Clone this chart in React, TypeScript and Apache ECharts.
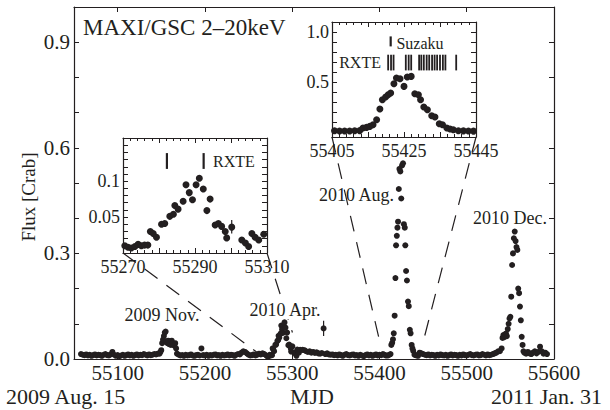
import React, { useEffect, useRef } from "react";
import * as echarts from "echarts";

// ---------------- data ----------------
// main light curve: quiescent stretches (start MJD, step 2 d) and outbursts
const quietAStart = 55058;
const quietAFlux = [0.014, 0.012, 0.011, 0.013, 0.010, 0.012, 0.009, 0.011, 0.013, 0.010, 0.012, 0.011, 0.009, 0.012, 0.014, 0.011, 0.010, 0.013, 0.020, 0.012, 0.009, 0.011, 0.008, 0.010, 0.012, 0.009, 0.011, 0.013, 0.010, 0.012, 0.009, 0.011, 0.013, 0.010, 0.012, 0.011, 0.014, 0.012, 0.010, 0.013, 0.011, 0.012, 0.014, 0.013, 0.015];
const novStart = 55148;
const novFlux = [0.015, 0.020, 0.025, 0.045, 0.055, 0.065, 0.075, 0.078, 0.050, 0.045, 0.052, 0.042, 0.048, 0.040, 0.052, 0.045, 0.040, 0.038, 0.045, 0.030, 0.015];
const quietBStart = 55170;
const quietBFlux = [0.012, 0.010, 0.011, 0.009, 0.012, 0.010, 0.011, 0.013, 0.010, 0.009, 0.011, 0.012, 0.010, 0.030, 0.011, 0.010, 0.012, 0.009, 0.011, 0.010, 0.012, 0.013, 0.010, 0.011, 0.009, 0.012, 0.010, 0.011, 0.013, 0.010, 0.012, 0.011, 0.009, 0.012, 0.014, 0.013, 0.018, 0.022, 0.020, 0.016, 0.012, 0.010, 0.011, 0.013, 0.010, 0.012, 0.015, 0.013, 0.016, 0.014];
// 2010 Apr. outburst (also shown in inset 1)
const aprMjd = [55270.5, 55271.4, 55272.3, 55273.3, 55274.2, 55275.1, 55276.0, 55276.9, 55277.6, 55278.4, 55279.3, 55280.7, 55281.6, 55283.0, 55284.0, 55284.4, 55285.3, 55286.7, 55287.5, 55288.4, 55289.3, 55290.3, 55291.2, 55292.3, 55293.3, 55294.2, 55295.6, 55296.5, 55297.4, 55298.4, 55298.8, 55300.2, 55303.0, 55304.0, 55304.9, 55305.8, 55306.7, 55307.7, 55309.1];
const aprFlux = [0.010, 0.008, 0.007, 0.009, 0.012, 0.010, 0.011, 0.011, 0.030, 0.027, 0.022, 0.040, 0.041, 0.051, 0.054, 0.066, 0.061, 0.072, 0.095, 0.084, 0.074, 0.095, 0.104, 0.089, 0.059, 0.075, 0.039, 0.041, 0.037, 0.030, 0.021, 0.036, 0.018, 0.014, 0.009, 0.027, 0.022, 0.018, 0.026];
const quietCStart = 55312;
const quietCFlux = [0.026, 0.025, 0.022, 0.020, 0.022, 0.018, 0.020, 0.017, 0.019, 0.016, 0.015, 0.017, 0.087, 0.014, 0.016, 0.013, 0.012, 0.013, 0.011, 0.012, 0.010, 0.013, 0.011, 0.009, 0.012, 0.014, 0.011, 0.010, 0.012, 0.013, 0.010, 0.011, 0.009, 0.012, 0.010, 0.008, 0.011, 0.013, 0.010, 0.012, 0.009, 0.011, 0.013, 0.010, 0.012, 0.011, 0.014];
// 2010 Aug. outburst (also shown in inset 2)
const augMjd = [55405.7, 55407.1, 55408.5, 55409.9, 55411.3, 55412.7, 55413.6, 55414.6, 55415.5, 55416.4, 55417.4, 55418.3, 55419.0, 55419.9, 55420.6, 55421.3, 55422.2, 55422.9, 55423.9, 55425.0, 55425.9, 55427.0, 55428.0, 55429.0, 55429.6, 55430.5, 55431.5, 55432.7, 55433.6, 55434.8, 55435.7, 55436.9, 55437.8, 55438.7, 55440.1, 55441.5, 55442.9, 55444.3];
const augFlux = [0.012, 0.010, 0.010, 0.010, 0.012, 0.014, 0.040, 0.046, 0.056, 0.073, 0.123, 0.230, 0.323, 0.350, 0.373, 0.390, 0.483, 0.540, 0.533, 0.456, 0.550, 0.556, 0.383, 0.373, 0.323, 0.250, 0.223, 0.163, 0.150, 0.083, 0.073, 0.040, 0.030, 0.023, 0.012, 0.011, 0.010, 0.009];
const quietEStart = 55446;
const quietEFlux = [0.018, 0.016, 0.014, 0.012, 0.011, 0.013, 0.010, 0.012, 0.011, 0.009, 0.012, 0.010, 0.013, 0.011, 0.010, 0.012, 0.009, 0.011, 0.013, 0.010, 0.012, 0.011, 0.009, 0.012, 0.010, 0.013, 0.011, 0.010, 0.012, 0.014, 0.011, 0.010, 0.012, 0.013, 0.010, 0.011, 0.014, 0.012, 0.010, 0.013, 0.011, 0.012, 0.014, 0.016, 0.018, 0.022];
// 2010 Dec. outburst
const decMjd = [55538, 55540, 55541, 55542, 55543, 55544, 55545, 55546, 55547, 55548, 55549, 55550, 55551, 55552, 55553, 55554, 55555, 55556, 55557, 55558, 55559, 55560, 55561, 55562, 55563, 55564, 55565];
const decFlux = [0.022, 0.030, 0.060, 0.068, 0.062, 0.070, 0.072, 0.065, 0.085, 0.100, 0.115, 0.120, 0.177, 0.267, 0.300, 0.343, 0.362, 0.335, 0.318, 0.310, 0.200, 0.187, 0.149, 0.110, 0.063, 0.040, 0.022];
const quietFStart = 55566;
const quietFFlux = [0.018, 0.015, 0.020, 0.016, 0.014, 0.018, 0.022, 0.016, 0.020, 0.035, 0.022, 0.015, 0.018, 0.014];

// error bars [mjd, low, high]
const mainErrors = [[55336, 0.065, 0.109]];
const aprErrors = [[55300.2, 0.027, 0.046]];

// observation markers
const aprRxteMjd = [55282.2, 55292.4];
const aprRxteRange = [0.117, 0.139];
const augRxteMjd = [55420.6, 55421.4, 55422.1, 55425.5, 55426.3, 55427.0, 55429.2, 55429.8, 55430.5, 55431.3, 55432.0, 55432.8, 55433.5, 55434.2, 55435.0, 55435.8, 55436.5, 55439.5];
const augRxteRange = [0.616, 0.773];
const augSuzakuMjd = [55421.3];
const augSuzakuRange = [0.856, 0.956];

// ---------------- helpers ----------------
const seq = (start: number, step: number, vals: number[]) => vals.map((v, i) => [start + i * step, v]);
const zip = (xs: number[], ys: number[]) => xs.map((x, i) => [x, ys[i]]);

const FONT = '"Liberation Serif", "Times New Roman", Times, serif';
const INK = "#231f20";

const mainData = [
  ...seq(quietAStart, 2, quietAFlux),
  ...seq(novStart, 1, novFlux),
  ...seq(quietBStart, 2, quietBFlux),
  ...zip(aprMjd, aprFlux),
  ...seq(quietCStart, 2, quietCFlux),
  ...zip(augMjd, augFlux),
  ...seq(quietEStart, 2, quietEFlux),
  ...zip(decMjd, decFlux),
  ...seq(quietFStart, 2, quietFFlux),
];

const barRender = (width: number) => (params: any, api: any) => {
  const a = api.coord([api.value(0), api.value(1)]);
  const b = api.coord([api.value(0), api.value(2)]);
  return {
    type: "line",
    shape: { x1: a[0], y1: a[1], x2: b[0], y2: b[1] },
    style: { stroke: INK, lineWidth: width },
  };
};

function xAx(grid: number, pos: string, min: number, max: number, extra: any, labels: any) {
  return {
    gridIndex: grid,
    type: "value",
    position: pos,
    min,
    max,
    ...extra,
    axisLine: { show: true, onZero: false, lineStyle: { color: INK, width: 1.2 } },
    axisTick: { show: true, inside: true, length: 5, lineStyle: { color: INK, width: 1 } },
    splitLine: { show: false },
    axisLabel: labels ? { show: true, color: INK, fontFamily: FONT, ...labels } : { show: false },
  };
}
function yAx(grid: number, pos: string, min: number, max: number, extra: any, labels: any) {
  return {
    gridIndex: grid,
    type: "value",
    position: pos,
    min,
    max,
    ...extra,
    axisLine: { show: true, onZero: false, lineStyle: { color: INK, width: 1.2 } },
    axisTick: { show: true, inside: true, length: 5, lineStyle: { color: INK, width: 1 } },
    splitLine: { show: false },
    axisLabel: labels ? { show: true, color: INK, fontFamily: FONT, ...labels } : { show: false },
  };
}

const minor = { show: true, splitNumber: 5, length: 3, lineStyle: { color: INK, width: 1 } };

const insetXLabel = (start: number) => ({
  fontSize: 18,
  margin: 5,
  formatter: (v: number) => ((Math.round(v - start) % 20 === 0) ? String(v) : ""),
});

export default function App() {
  const ref = useRef<HTMLDivElement>(null);
  useEffect(() => {
    if (!ref.current) return;
    const chart = echarts.init(ref.current, null, { renderer: "svg" });
    const option: any = {
      animation: false,
      backgroundColor: "#fff",
      grid: [
        { left: 74, top: 7, width: 480, height: 352 },
        { left: 123, top: 138, width: 144, height: 115, show: true, backgroundColor: "#fff", borderWidth: 0 },
        { left: 332, top: 22, width: 144, height: 115, show: true, backgroundColor: "#fff", borderWidth: 0 },
      ],
      xAxis: [
        xAx(0, "bottom", 55050, 55600, { splitNumber: 5 }, { fontSize: 21, margin: 3, showMinLabel: false, formatter: (v: number) => String(v) }),
        xAx(0, "top", 55050, 55600, { splitNumber: 5 }, null),
        xAx(1, "bottom", 55270, 55310, { interval: 10, minorTick: minor }, insetXLabel(55270)),
        xAx(1, "top", 55270, 55310, { interval: 10, minorTick: minor }, null),
        xAx(2, "bottom", 55405, 55445, { interval: 10, minorTick: minor }, insetXLabel(55405)),
        xAx(2, "top", 55405, 55445, { interval: 10, minorTick: minor }, null),
      ],
      yAxis: [
        yAx(0, "left", 0, 1, { interval: 0.1 }, {
          fontSize: 21, margin: 4,
          formatter: (v: number) => { const k = Math.round(v * 10); return k % 3 === 0 && k < 10 ? v.toFixed(1) : ""; },
        }),
        yAx(0, "right", 0, 1, { interval: 0.1 }, null),
        yAx(1, "left", 0, 0.16, { interval: 0.01 }, {
          fontSize: 18, margin: 3,
          formatter: (v: number) => (Math.abs(v - 0.05) < 1e-6 ? "0.05" : Math.abs(v - 0.1) < 1e-6 ? "0.1" : ""),
        }),
        yAx(1, "right", 0, 0.16, { interval: 0.01 }, null),
        yAx(2, "left", -0.05, 1.1, { splitNumber: 10 }, {
          fontSize: 18, margin: 3, showMinLabel: false, showMaxLabel: false,
          formatter: (v: number) => (Math.abs(v - 0.5) < 1e-6 ? "0.5" : Math.abs(v - 1) < 1e-6 ? "1.0" : ""),
        }),
        yAx(2, "right", -0.05, 1.1, { splitNumber: 10 }, null),
      ],
      series: [
        { type: "scatter", xAxisIndex: 0, yAxisIndex: 0, data: mainData, symbolSize: 6, itemStyle: { color: INK, opacity: 1 }, z: 5 },
        { type: "custom", xAxisIndex: 0, yAxisIndex: 0, data: mainErrors, renderItem: barRender(1.2), z: 5 },
        { type: "scatter", xAxisIndex: 2, yAxisIndex: 2, data: zip(aprMjd, aprFlux), symbolSize: 7, itemStyle: { color: INK, opacity: 1 }, z: 5 },
        { type: "custom", xAxisIndex: 2, yAxisIndex: 2, data: aprErrors, renderItem: barRender(1.2), z: 5 },
        { type: "custom", xAxisIndex: 2, yAxisIndex: 2, data: aprRxteMjd.map((m) => [m, aprRxteRange[0], aprRxteRange[1]]), renderItem: barRender(2.2), z: 5 },
        { type: "scatter", xAxisIndex: 4, yAxisIndex: 4, data: zip(augMjd, augFlux), symbolSize: 7, itemStyle: { color: INK, opacity: 1 }, z: 5 },
        { type: "custom", xAxisIndex: 4, yAxisIndex: 4, data: augRxteMjd.map((m) => [m, augRxteRange[0], augRxteRange[1]]), renderItem: barRender(1.8), z: 5 },
        { type: "custom", xAxisIndex: 4, yAxisIndex: 4, data: augSuzakuMjd.map((m) => [m, augSuzakuRange[0], augSuzakuRange[1]]), renderItem: barRender(2.2), z: 5 },
      ],
    };
    chart.setOption(option);

    const px = (g: number, v: number[]) => chart.convertToPixel({ gridIndex: g } as any, v) as number[];
    const connectors = [
      { from: px(1, [55270, 0]), to: px(0, [55270, 0]), frac: 0.95 },
      { from: px(1, [55310, 0]), to: px(0, [55310, 0]), frac: 0.75 },
      { from: px(2, [55405, -0.05]), to: px(0, [55405, 0]), frac: 0.92 },
      { from: px(2, [55445, -0.05]), to: px(0, [55445, 0]), frac: 0.91 },
    ];
    const lines = connectors.map((c) => ({
      type: "line",
      z: 1,
      shape: {
        x1: c.from[0], y1: c.from[1],
        x2: c.from[0] + (c.to[0] - c.from[0]) * c.frac,
        y2: c.from[1] + (c.to[1] - c.from[1]) * c.frac,
      },
      style: { stroke: INK, lineWidth: 1.2, lineDash: [16, 11] },
    }));
    const txt = (text: string, x: number, y: number, size: number, align = "left") => ({
      type: "text",
      z: 2,
      x, y,
      style: { text, fill: INK, font: `${size}px ${FONT}`, align, verticalAlign: "middle" },
    });
    const rx1 = px(1, [55295, 0.127]);
    const suz = px(2, [55422.9, 0.89]);
    const rx2 = px(2, [55407, 0.696]);
    chart.setOption({
      graphic: [
        ...lines,
        txt("MAXI/GSC 2\u201320keV", 83, 27, 23),
        { type: "text", z: 2, x: 28, y: 197, rotation: Math.PI / 2, style: { text: "Flux [Crab]", fill: INK, font: `19px ${FONT}`, align: "center", verticalAlign: "middle" } },
        txt("MJD", 312, 396, 22, "center"),
        txt("2009 Aug. 15", 6, 396, 22, "left"),
        txt("2011 Jan. 31", 602, 396, 22, "right"),
        txt("2009 Nov.", 162, 315, 18, "center"),
        { type: "text", z: 2, x: 285, y: 310, style: { text: "2010 Apr.", fill: INK, font: `18px ${FONT}`, align: "center", verticalAlign: "middle", backgroundColor: "#fff", padding: [0, 1] } },
        txt("2010 Aug.", 394, 195, 18, "right"),
        txt("2010 Dec.", 473, 218, 18, "left"),
        txt("RXTE", rx1[0], rx1[1], 16, "left"),
        txt("Suzaku", suz[0], suz[1], 16, "left"),
        txt("RXTE", rx2[0], rx2[1], 16, "left"),
      ],
    });
    return () => chart.dispose();
  }, []);
  return (
    <div
      ref={ref}
      style={{ position: "fixed", left: 0, top: 0, width: 610, height: 410, background: "#fff" }}
    />
  );
}
